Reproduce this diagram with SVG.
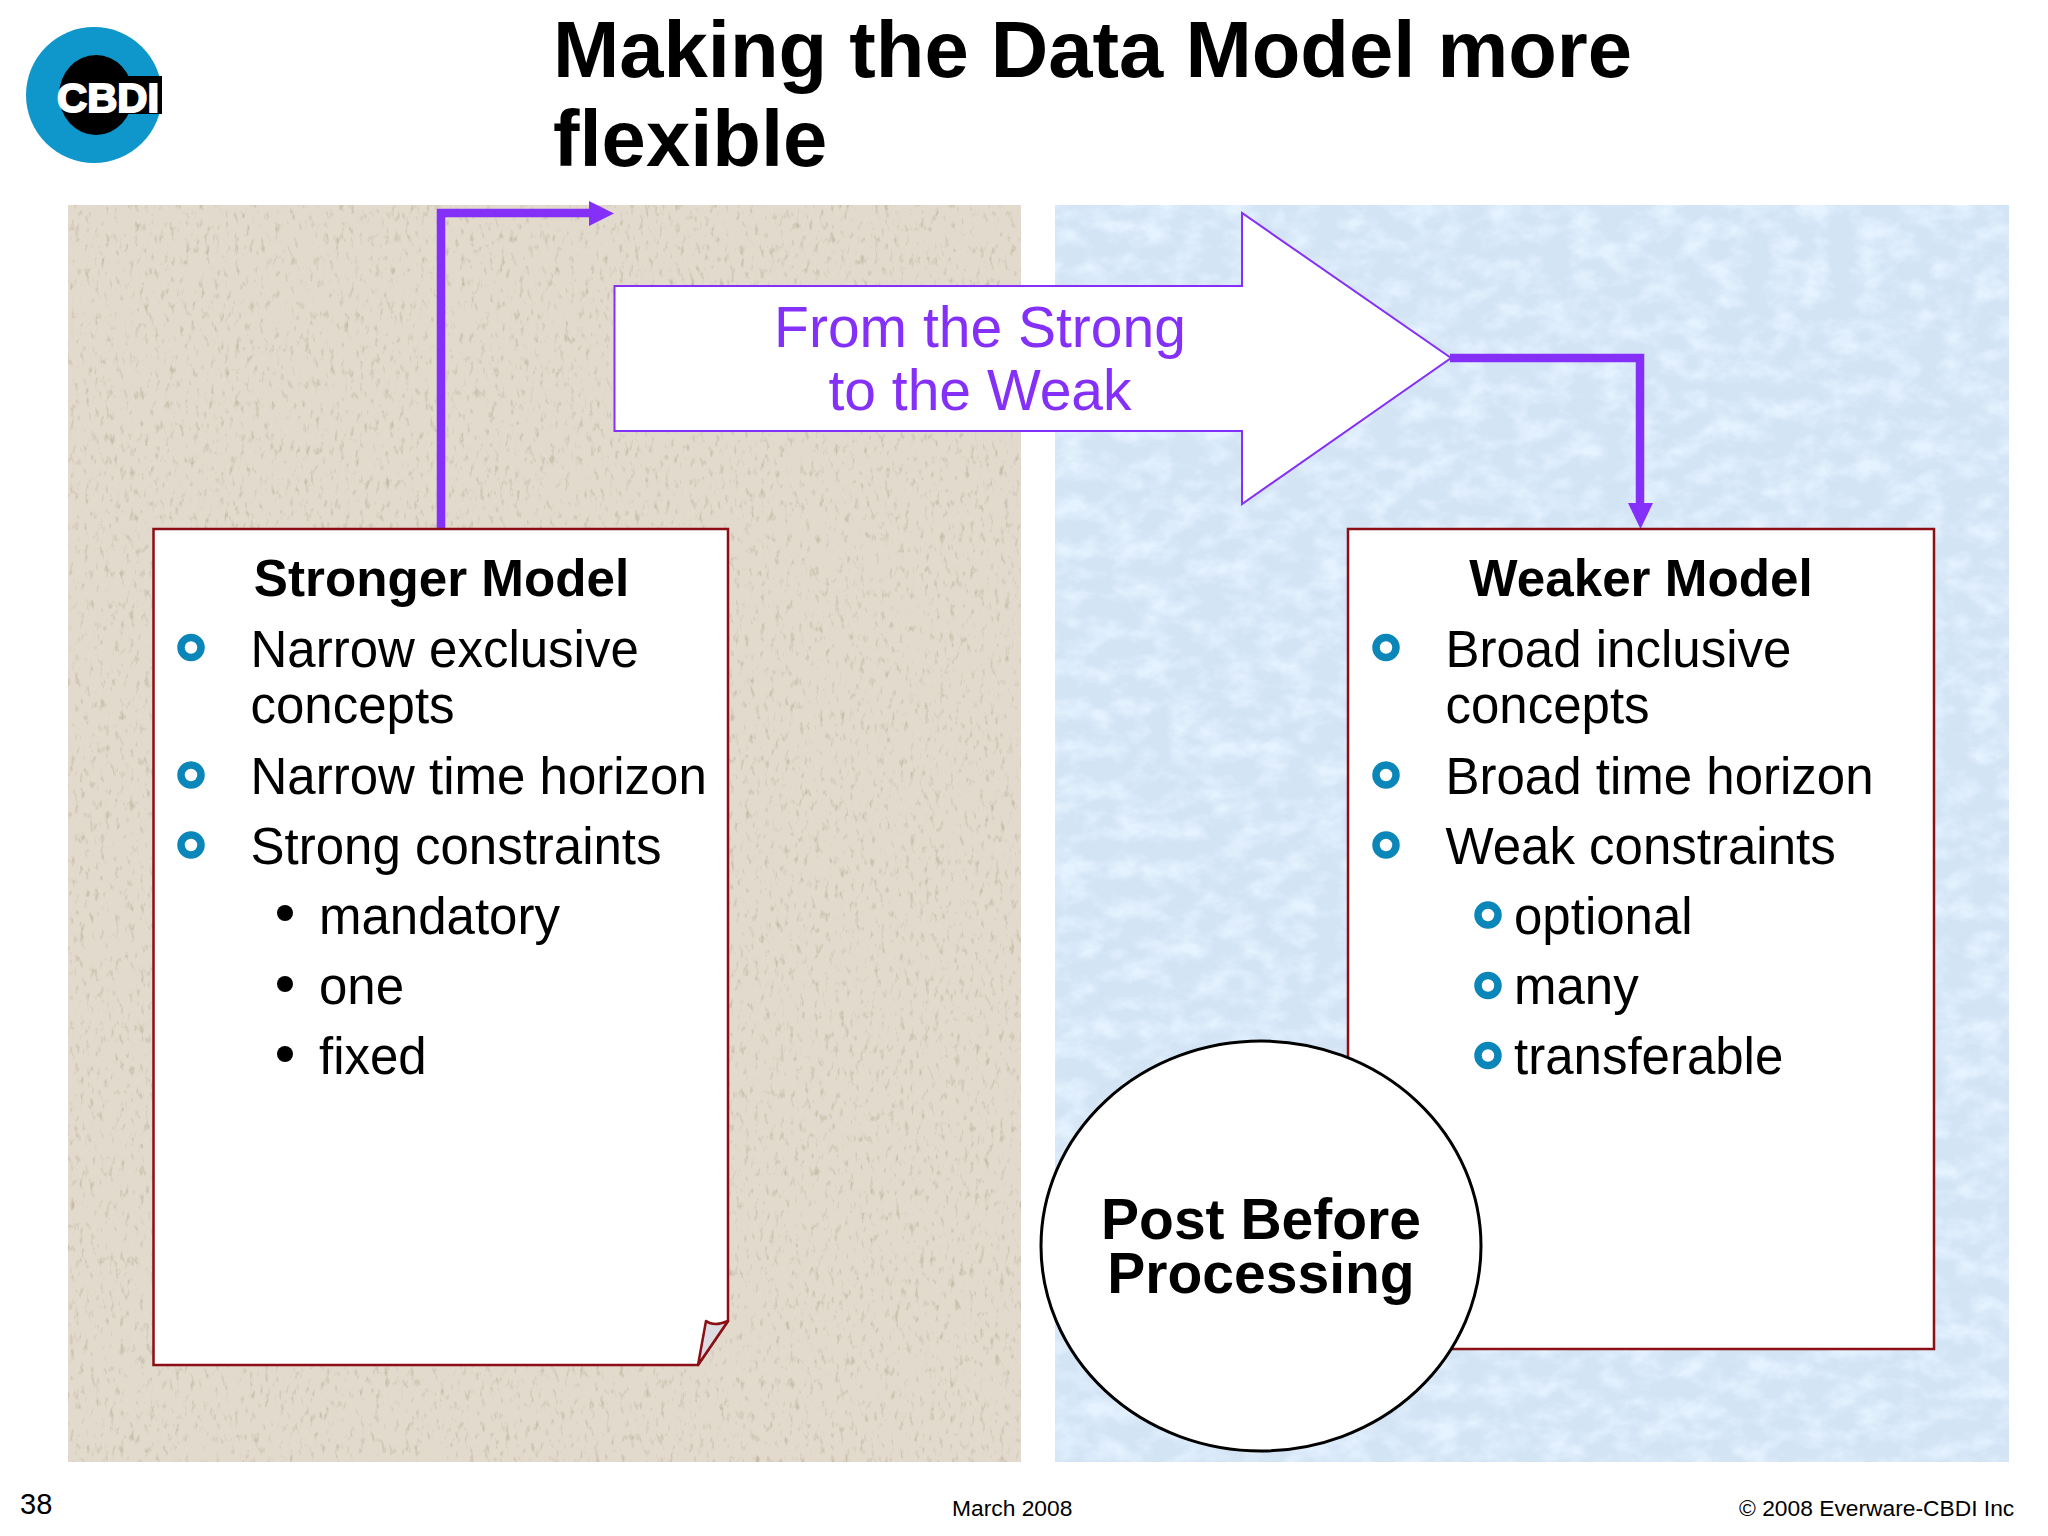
<svg xmlns="http://www.w3.org/2000/svg" width="2048" height="1536" viewBox="0 0 2048 1536">
<defs>
<style>
text{font-family:"Liberation Sans",Arial,sans-serif;fill:#000}
.b{font-weight:700}
.h{font-size:51.2px;font-weight:700;text-anchor:middle}
.t{font-size:51px}
.ring{fill:none;stroke:#0a86b8;stroke-width:7.5}
.box{fill:#fff;stroke:#8b0f14;stroke-width:2.5}
.conn{fill:none;stroke:#8430f8;stroke-width:8.5}
.head{fill:#8430f8}
.arrowt{font-size:57px;fill:#8430f8;text-anchor:middle}
.foot{font-size:22.8px}
</style>
<filter id="texBeige" x="0" y="0" width="1" height="1" color-interpolation-filters="sRGB">
<feTurbulence type="fractalNoise" baseFrequency="0.2 0.09" numOctaves="4" seed="7"/>
<feColorMatrix values="0 0 0 0 0.76 0 0 0 0 0.72 0 0 0 0 0.64 3 0 0 0 -1.75"/>
<feComposite in2="SourceGraphic" operator="over"/>
</filter>
<filter id="texBlue" x="0" y="0" width="1" height="1" color-interpolation-filters="sRGB">
<feTurbulence type="fractalNoise" baseFrequency="0.035 0.05" numOctaves="5" seed="11"/>
<feColorMatrix values="0 0 0 0 0.9 0 0 0 0 0.95 0 0 0 0 1 2.4 0 0 0 -0.95"/>
<feComposite in2="SourceGraphic" operator="over"/>
</filter>
</defs>
<rect width="2048" height="1536" fill="#fff"/>
<g id="logo">
<ellipse cx="94" cy="95" rx="68" ry="68" fill="#0f97cb"/>
<ellipse cx="96" cy="95" rx="37" ry="40" fill="#000"/>
<rect x="96" y="76" width="66" height="38" fill="#000"/>
<text x="57" y="112" font-size="40" class="b" style="fill:#fff;stroke:#fff;stroke-width:2" textLength="102" lengthAdjust="spacingAndGlyphs">CBDI</text>
</g>
<g id="title">
<text class="b" x="553" y="77" font-size="79.6">Making the Data Model more</text>
<text class="b" x="553" y="166" font-size="79.6">flexible</text>
</g>
<g id="panels">
<rect id="panel-left" x="68" y="205" width="953" height="1257" fill="#e2dacd" filter="url(#texBeige)"/>
<rect id="panel-right" x="1055" y="205" width="954" height="1257" fill="#d3e4f5" filter="url(#texBlue)"/>
</g>
<g id="connectors">
<path class="conn" d="M441 530V213H590"/>
<polygon class="head" points="589,201 614,213.5 589,226"/>
<path class="conn" d="M1450 358H1640V505"/>
<polygon class="head" points="1628,503 1653,503 1640.5,529"/>
</g>
<g id="stronger-model">
<path class="box" d="M153.500 529H728V1321L698 1365H153.500Z"/>
<path d="M728 1321L698 1365L706 1321Q714 1327 728 1321Z" fill="#dcdce2" stroke="#8b0f14" stroke-width="2.500" stroke-linejoin="round"/>
<text class="h" x="441.500" y="596">Stronger Model</text>
<circle class="ring" cx="191" cy="647.500" r="10"/>
<text class="t" x="250.500" y="666.500">Narrow exclusive</text>
<text class="t" x="250.500" y="723">concepts</text>
<circle class="ring" cx="191" cy="775" r="10"/>
<text class="t" x="250.500" y="793.500">Narrow time horizon</text>
<circle class="ring" cx="191" cy="845" r="10"/>
<text class="t" x="250.500" y="863.500">Strong constraints</text>
<circle cx="285" cy="913" r="8"/>
<text class="t" x="319" y="933.500">mandatory</text>
<circle cx="285" cy="984" r="8"/>
<text class="t" x="319" y="1003.500">one</text>
<circle cx="285" cy="1054" r="8"/>
<text class="t" x="319" y="1073.500">fixed</text>
</g>
<g id="weaker-model">
<rect class="box" x="1348" y="529" width="586" height="820"/>
<text class="h" x="1641" y="596">Weaker Model</text>
<circle class="ring" cx="1386" cy="647.500" r="10"/>
<text class="t" x="1445.500" y="666.500">Broad inclusive</text>
<text class="t" x="1445.500" y="723">concepts</text>
<circle class="ring" cx="1386" cy="775" r="10"/>
<text class="t" x="1445.500" y="793.500">Broad time horizon</text>
<circle class="ring" cx="1386" cy="845" r="10"/>
<text class="t" x="1445.500" y="863.500">Weak constraints</text>
<circle class="ring" cx="1488" cy="915" r="10"/>
<text class="t" x="1514" y="933.500">optional</text>
<circle class="ring" cx="1488" cy="985.500" r="10"/>
<text class="t" x="1514" y="1003.500">many</text>
<circle class="ring" cx="1488" cy="1055.500" r="10"/>
<text class="t" x="1514" y="1073.500">transferable</text>
</g>
<g id="from-strong-to-weak">
<polygon points="614.500,286 1242,286 1242,213 1451,358 1242,504 1242,431 614.500,431" fill="#fff" stroke="#8430f8" stroke-width="2"/>
<text class="arrowt" x="980" y="347">From the Strong</text>
<text class="arrowt" x="980" y="410">to the Weak</text>
</g>
<g id="post-before-processing">
<ellipse cx="1261" cy="1246" rx="220" ry="205" fill="#fff" stroke="#000" stroke-width="3"/>
<text class="b" x="1261" y="1239" font-size="57" text-anchor="middle">Post Before</text>
<text class="b" x="1261" y="1293" font-size="57" text-anchor="middle">Processing</text>
</g>
<g id="footer">
<text x="20" y="1514" font-size="29">38</text>
<text class="foot" x="952" y="1516">March 2008</text>
<text class="foot" x="1739" y="1516">© 2008 Everware-CBDI Inc</text>
</g>
</svg>
